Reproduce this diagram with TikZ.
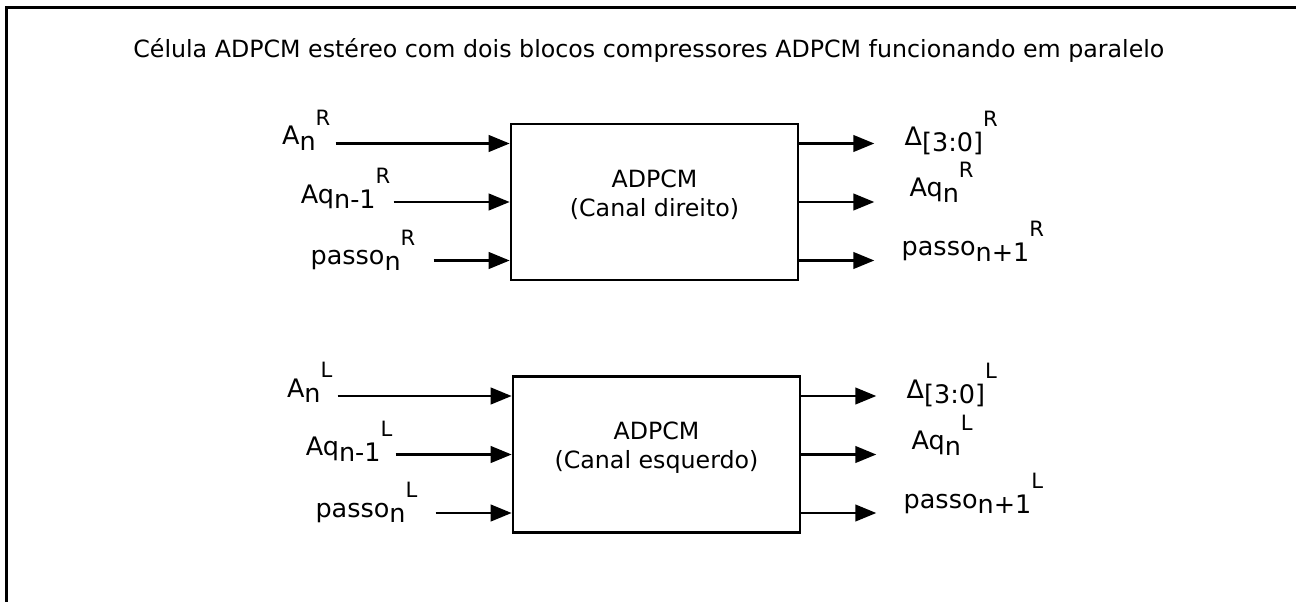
\documentclass[tikz,border=0pt]{standalone}
\usepackage{fontspec}
\setmainfont{DejaVu Sans}
\usetikzlibrary{arrows.meta,positioning,calc}

% signal name: base, lowered index, raised channel letter
\newcommand{\sig}[3]{#1\raisebox{-0.23em}{#2}\raisebox{0.75em}{\fontsize{12}{14}\selectfont #3}}

\begin{document}
\begin{tikzpicture}[
  >={Triangle[length=0.42cm,width=0.33cm]},
  block/.style={
    draw,
    line width=1.5pt,
    minimum width=5.74cm,
    minimum height=3.12cm,
    inner sep=0pt
  },
  blocktext/.style={align=center,inner sep=0pt,font=\fontsize{13.5}{16.5}\selectfont},
  flow/.style={->,line width=1.5pt},
  sig/.style={font=\fontsize{14.5}{17}\selectfont,inner sep=0pt},
  title/.style={font=\fontsize{13.5}{16}\selectfont,inner sep=0pt}
]
\useasboundingbox (0,0) rectangle (25.92,-12.04);

% frame, open on the right and at the bottom
\coordinate (framebl) at (0.13,-12.04);
\coordinate (frametl) at (0.13,-0.15);
\coordinate (frametr) at (25.92,-0.15);
\draw[line width=1.5pt] (framebl) -- (frametl) -- (frametr);

\node[title,anchor=base west] (ttl) at (2.66,-1.16)
  {Célula ADPCM estéreo com dois blocos compressores ADPCM funcionando em paralelo};

% the two compressor blocks
\node[block] (dir) at (13.09,-4.04) {};
\node[blocktext] (dirtxt) at ([yshift=0.14cm]dir.center) {ADPCM\\(Canal direito)};
\node[block] (esq) at (13.13,-9.09) {};
\node[blocktext] (esqtxt) at ([yshift=0.14cm]esq.center) {ADPCM\\(Canal esquerdo)};

\foreach \blk/\ch in {dir/R,esq/L}{
  % inputs
  \foreach \k/\dy/\dx/\gap/\bl/\base/\sub in {
      a/1.17/3.48/0.10/0.02/A/n,
      q/0.0/2.32/0.06/0.02/Aq/n-1,
      p/-1.17/1.52/0.36/0.08/passo/n}{
    \coordinate (in\k\ch) at ([xshift=-\dx cm,yshift=\dy cm]\blk.west);
    \node[sig,anchor=base east] (lin\k\ch)
      at ([xshift=-\gap cm,yshift=-\bl cm]in\k\ch) {\sig{\base}{\sub}{\ch}};
    \draw[flow] (in\k\ch) -- (in\k\ch -| \blk.west);
  }
  % outputs
  \foreach \k/\dy/\gap/\bl/\base/\sub in {
      d/1.17/0.60/-0.04/Δ/[3:0],
      q/0.0/0.70/0.10/Aq/n,
      p/-1.17/0.54/0.10/passo/n+1}{
    \coordinate (out\k\ch) at ([xshift=1.5cm,yshift=\dy cm]\blk.east);
    \node[sig,anchor=base west] (lout\k\ch)
      at ([xshift=\gap cm,yshift=\bl cm]out\k\ch) {\sig{\base}{\sub}{\ch}};
    \draw[flow] (out\k\ch -| \blk.east) -- (out\k\ch);
  }
}
\end{tikzpicture}
\end{document}
